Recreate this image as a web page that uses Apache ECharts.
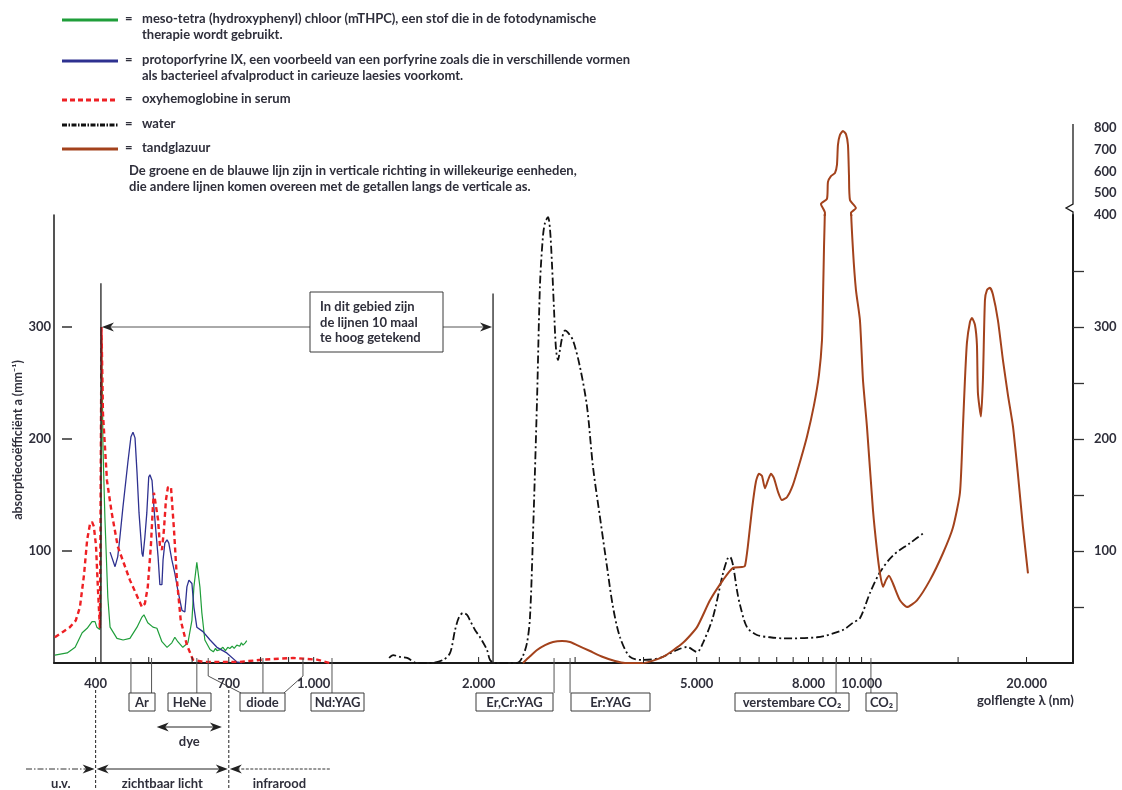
<!DOCTYPE html>
<html><head><meta charset="utf-8">
<script src="https://cdn.jsdelivr.net/npm/echarts@6/dist/echarts.min.js"></script>
<style>html,body{margin:0;padding:0;background:#fff}#c{width:1122px;height:790px}</style>
</head><body><div id="c"></div>
<script>
// ---------- DATA (wavelength nm, absorption coefficient mm^-1) ----------
const mthpc = [[337,7],[355,9],[367,14],[378,27],[386,31],[394,37],[399,37],[402,32],[407,30],[408.5,40],[410.5,290],[412.5,193],[416,128],[421,59],[425,32],[437.5,22],[449,20.5],[462,22],[476,32],[486,41],[490,43],[498,36],[509,32],[517.5,31],[528.5,19],[540,14],[551,18],[558,23],[565,19],[577,14],[589.5,18],[599.5,38],[604.5,68],[612,90],[620,68],[625,45],[633,20.5],[647,12],[656,10],[662,13],[666,11],[675,12],[683,14],[690,11],[697,14],[703,13],[710,15],[716,13],[724,16],[733,15],[738,18],[743,16],[750,18],[755,20]];
const ppix = [[425,99],[434,86],[437.5,86],[439,95],[443,112.5],[448.6,139],[458,179],[464,202],[468,206],[472,201],[476,170],[480,134],[486,98],[488,95],[492,112.5],[496,134],[500,166],[502.5,168],[507,163],[511,139],[515,119],[520,95],[524,70],[528.5,70],[531,92],[535,107],[540,110],[544,107],[551,92],[558,80],[565,65],[575,47],[582,45.5],[587,68],[592,74],[599.5,71],[604.5,50],[612,32],[628,28],[647,20.5],[666,14],[694,9],[724,1],[740,0]];
const oxyhb = [[337,23],[349,28],[359,32],[368,38],[374.5,50],[381,79],[386,110],[390.6,124],[394,126],[397,122],[400.6,105],[404,65],[407.3,31],[409,31],[410,300],[412.5,223],[416,193],[419.5,163],[428,134],[439,104],[462,74],[486,50],[492,53],[498,68],[504.6,105],[509,141],[511,152],[515,152],[520,128],[524,105],[528.5,101],[533,119],[537.5,145.5],[542,157],[549,157],[556,119],[563,74],[572,38],[587,16],[602,3],[628,1],[733,1],[808,3],[917,4.5],[1014,3],[1071,0]];
const water = [[1373,4.5],[1396,7],[1438,5.4],[1481,4.5],[1544,0],[1631,0],[1722,2.7],[1774,9],[1811.5,29.5],[1842,41],[1873.5,44.6],[1905,43],[1929,38],[1970,29.5],[2012,23],[2072,11.6],[2098.5,2.7],[2143,0],[2311,0],[2350,0],[2400,4.5],[2451,18],[2482,41],[2514,116],[2556.5,235],[2589,339],[2622,382],[2644,393],[2677,398],[2700,387],[2723,355],[2746,315],[2769,280],[2792,270.5],[2816,280],[2840,290],[2876,297],[2912,295],[2974,288],[3063,264],[3154,229],[3234.5,175],[3331,130],[3430.5,86],[3518,50],[3623,23],[3779,5.4],[3991,2.7],[4286,4.5],[4603,11.6],[4801,14.3],[5007,9.8],[5135,18],[5355,41],[5585,80],[5703,94],[5751,94.6],[5824,87.5],[5922.5,65],[5998,52],[6177,32],[6442,25],[6804,23],[7186,22],[8289,23],[9247,29.5],[9644,36],[9931,40],[10357,62.5],[10802,81],[11408,96],[12254,107],[13051,117]];
const enamel = [[2410,0],[2482,6],[2556.5,11.6],[2644,16],[2734,18.75],[2839.5,19.6],[2937,18.75],[3024,16],[3194,10.7],[3373,5.4],[3548,1.8],[3700,0],[3991,0],[4340,5.4],[4721,18],[5007,32],[5288,56],[5585,74],[5824,85],[6049,85.7],[6125,86.6],[6203,105],[6308,137],[6415,162],[6496,169],[6579,167],[6662,156],[6746,163],[6833,169],[6919,165],[7036,153],[7156,145.5],[7307,148],[7494,159],[7718,179.5],[7948,202],[8185,230],[8359,257],[8466,288],[8501,324],[8537,369],[8573,410],[8430,451],[8645,474],[8682,552],[8792,579],[8941,593],[9016,630],[9054,722],[9131,768],[9247,786],[9364,772],[9443,722],[9483,584],[9523,469],[9766,432],[9563,409],[9644,369],[9766,333],[9931,306],[10057,253],[10227.5,211],[10488,137],[10666,101],[10802,80],[10939,68],[11077,74],[11218,78],[11408,71],[11749,56],[12101,50],[12620,56],[13328,74],[14076,98],[14680,121],[15118,152],[15310,211],[15439,253],[15569,286],[15767,304.5],[15900,308],[16101,302],[16237,284],[16305,241],[16512,220],[16651,253],[16792,324],[16934,333],[17149,335],[17366,329],[17735,306],[18111,270.5],[18500,239],[18893,211],[19294,168],[19703,121],[20121,80]];

const xTickLabels = [400, 700, 1000, 2000, 5000, 8000, 10000, 20000];
const xTicks = [400,500,600,700,800,900,1000,2000,3000,4000,5000,5500,6000,6500,7000,7500,8000,8500,9000,9500,10000,15000,20000];
const leftYLabels = [100, 200, 300];
const rightYTicks = [50, 100, 150, 200, 250, 300, 350];
const rightLowerLabels = [100, 200, 300, 400];
const rightUpperLabels = [500, 600, 700, 800];

const laserNames = ['Ar', 'HeNe', 'diode', 'Nd:YAG', 'Er,Cr:YAG', 'Er:YAG', 'verstembare CO₂', 'CO₂'];
const laserLines = [[464, 506], [612], [642, 808, 956], [1080], [2746], [2937], [8983], [10400]];
const dyeRange = [517, 680];
const visibleRange = [400, 700];
const zoomRegion = [409, 2125];   // region drawn 10x too high
const zoomArrowValue = 300;

const legendTexts = [
  ['meso-tetra (hydroxyphenyl) chloor (mTHPC), een stof die in de fotodynamische', 'therapie wordt gebruikt.'],
  ['protoporfyrine IX, een voorbeeld van een porfyrine zoals die in verschillende vormen', 'als bacterieel afvalproduct in carieuze laesies voorkomt.'],
  ['oxyhemoglobine in serum'],
  ['water'],
  ['tandglazuur']
];
const noteText = ['De groene en de blauwe lijn zijn in verticale richting in willekeurige eenheden,', 'die andere lijnen komen overeen met de getallen langs de verticale as.'];

// ---------- STYLE ----------
const FAM = 'Lato, "Open Sans", "DejaVu Sans", sans-serif';
const TXT = '#2f2f3b';
const C_GREEN = '#1f9e3a', C_BLUE = '#2e3190', C_RED = '#ee2024', C_WATER = '#111111', C_BROWN = '#a3421c';
const xMin = 335.8, xMax = 24312;

const chart = echarts.init(document.getElementById('c'), null, {renderer: 'canvas'});
const lblStyle = {fontFamily: FAM, fontWeight: 'bold', fontSize: 13, color: TXT};

chart.setOption({
  animation: false,
  backgroundColor: '#fff',
  grid: [
    {left: 54, right: 49, top: 215, height: 448},
    {left: 54, right: 49, top: 128, height: 87}
  ],
  xAxis: [
    {type: 'log', logBase: 10, gridIndex: 0, min: xMin, max: xMax,
     axisLine: {show: true, onZero: false, lineStyle: {color: '#1b1b1b', width: 2}},
     axisTick: {show: false}, axisLabel: {show: false}, splitLine: {show: false},
     minorTick: {show: false}, minorSplitLine: {show: false}},
    {type: 'log', logBase: 10, gridIndex: 1, min: xMin, max: xMax, show: false}
  ],
  yAxis: [
    {type: 'value', gridIndex: 0, min: 0, max: 400, interval: 100, position: 'left',
     axisLine: {show: true, lineStyle: {color: '#1b1b1b', width: 1.5}},
     axisTick: {show: false}, splitLine: {show: false},
     axisLabel: Object.assign({margin: 3, formatter: v => leftYLabels.includes(v) ? String(v) : ''}, lblStyle)},
    {type: 'value', gridIndex: 0, min: 0, max: 400, interval: 50, position: 'right',
     axisLine: {show: true, lineStyle: {color: '#1b1b1b', width: 2}},
     axisTick: {show: true, length: 11, customValues: rightYTicks, lineStyle: {color: '#333', width: 1.3}},
     splitLine: {show: false},
     axisLabel: Object.assign({margin: 21, customValues: rightLowerLabels, formatter: v => rightLowerLabels.includes(v) ? String(v) : ''}, lblStyle)},
    {type: 'value', gridIndex: 1, min: 400, max: 800, interval: 100, position: 'right',
     axisLine: {show: false}, axisTick: {show: false}, splitLine: {show: false},
     axisLabel: Object.assign({margin: 21, customValues: rightUpperLabels, formatter: v => rightUpperLabels.includes(v) ? String(v) : ''}, lblStyle)}
  ],
  series: [
    {type: 'line', name: 'mTHPC', xAxisIndex: 0, yAxisIndex: 0, data: mthpc, showSymbol: false, clip: true,
     lineStyle: {color: C_GREEN, width: 1.2}, z: 3},
    {type: 'line', name: 'protoporfyrine IX', xAxisIndex: 0, yAxisIndex: 0, data: ppix, showSymbol: false, clip: true,
     lineStyle: {color: C_BLUE, width: 1.3}, z: 4},
    {type: 'line', name: 'oxyhemoglobine', xAxisIndex: 0, yAxisIndex: 0, data: oxyhb, showSymbol: false, clip: true,
     lineStyle: {color: C_RED, width: 2.4, type: [5, 3.5]}, z: 5},
    {type: 'line', name: 'water', xAxisIndex: 0, yAxisIndex: 0, data: water, showSymbol: false, clip: true, smooth: 0.3,
     lineStyle: {color: C_WATER, width: 1.8, type: [8, 3, 2, 3]}, z: 6},
    {type: 'line', name: 'tandglazuur', xAxisIndex: 0, yAxisIndex: 0, data: enamel, showSymbol: false, clip: true, smooth: 0.2,
     lineStyle: {color: C_BROWN, width: 2}, z: 7},
    {type: 'line', name: 'tandglazuur (boven)', xAxisIndex: 1, yAxisIndex: 2, data: enamel, showSymbol: false, clip: true, smooth: 0.2,
     lineStyle: {color: C_BROWN, width: 2}, z: 7}
  ]
});

function build() {
  const X = v => chart.convertToPixel({xAxisIndex: 0}, v);
  const Y = v => chart.convertToPixel({yAxisIndex: 0}, v);
  const g = [];
  const y0 = Y(0), xL = X(xMin), xR = X(xMax);
  const line = (x1, y1, x2, y2, st) => g.push({type: 'line', silent: true, z: 50,
    shape: {x1, y1, x2, y2}, style: Object.assign({stroke: '#222', lineWidth: 1}, st || {})});
  const poly = (pts, st) => g.push({type: 'polyline', silent: true, z: 50, shape: {points: pts},
    style: Object.assign({stroke: '#222', lineWidth: 1, fill: null}, st || {})});
  const txt = (x, y, s, o) => { o = o || {}; g.push({type: 'text', silent: true, z: 60, x, y, rotation: o.rot || 0,
    style: {text: s, fill: o.color || TXT, fontFamily: FAM, fontSize: o.size || 13, fontWeight: o.weight || 'bold',
      align: o.align || 'left', verticalAlign: o.va || 'middle', textAlign: o.align || 'left', textVerticalAlign: o.va || 'middle'}}); };
  const arrow = (xt, y, dir, col) => g.push({type: 'polygon', silent: true, z: 55,
    shape: {points: [[xt, y], [xt - dir * 12, y - 4.5], [xt - dir * 8.5, y], [xt - dir * 12, y + 4.5]]},
    style: {fill: col || '#222'}});
  const box = (x, y, w, h) => g.push({type: 'rect', silent: true, z: 52, shape: {x, y, width: w, height: h},
    style: {fill: '#fff', stroke: '#3a3a3a', lineWidth: 1}});
  const fmt = v => String(v).replace(/\B(?=(\d{3})+(?!\d))/g, '.');

  // x ticks & labels
  xTicks.forEach(t => line(X(t), y0, X(t), y0 - 6, {stroke: '#222', lineWidth: 1}));
  xTickLabels.forEach(t => txt(X(t), y0 + 21, fmt(t), {align: 'center'}));

  // left axis detached ticks
  leftYLabels.forEach(v => line(xL + 8, Y(v), xL + 18, Y(v), {stroke: '#222', lineWidth: 1.4}));

  // right axis break + upper part
  poly([[xR, Y(400)], [xR, Y(400) - 3], [xR - 7, Y(400) - 7], [xR, Y(400) - 11], [xR, 124]], {stroke: '#1b1b1b', lineWidth: 1.3});

  // 10x region markers
  const zl = X(zoomRegion[0]), zr = X(zoomRegion[1]), ya = Y(zoomArrowValue);
  line(zl, Y(339), zl, y0, {stroke: '#222', lineWidth: 1.3});
  line(zr, Y(330), zr, y0, {stroke: '#222', lineWidth: 1.3});
  line(zl + 4, ya, zr - 4, ya, {stroke: '#555', lineWidth: 1});
  arrow(zl + 1, ya, -1); arrow(zr - 1, ya, 1);
  box(310, 292, 133, 60);
  ['In dit gebied zijn', 'de lijnen 10 maal', 'te hoog getekend'].forEach((s, i) => txt(320, 307 + i * 15.5, s));

  // laser boxes & connectors
  const bY = 693, bH = 18;
  const boxes = [[129, 26], [168, 43], [240, 45], [311, 53], [476, 77], [571, 79], [735, 114], [866, 31]];
  laserNames.forEach((n, i) => {
    const [bx, bw] = boxes[i];
    const ls = laserLines[i];
    if (n === 'diode') {
      const a = X(ls[0]), m = X(ls[1]), c = X(ls[2]);
      poly([[a, y0 - 5], [a, 676], [bx + 1, bY]], {stroke: '#555'});
      line(m, y0 - 5, m, bY, {stroke: '#555'});
      poly([[c, y0 - 5], [c, 676], [bx + bw - 1, bY]], {stroke: '#555'});
    } else {
      ls.forEach(w => line(X(w), y0 - 5, X(w), bY, {stroke: '#555'}));
    }
    box(bx, bY, bw, bH);
    txt(bx + bw / 2, bY + bH / 2 + 0.5, n, {align: 'center'});
  });
  txt(977, 701, 'golflengte λ (nm)');

  // dye arrow
  const d1 = X(dyeRange[0]), d2 = X(dyeRange[1]);
  line(d1 + 5, 727, d2 - 5, 727, {stroke: '#222'});
  arrow(d1, 727, -1); arrow(d2, 727, 1);
  txt((d1 + d2) / 2, 742, 'dye', {align: 'center'});

  // spectrum bands
  const v1 = X(visibleRange[0]), v2 = X(visibleRange[1]);
  line(v1, 690, v1, 790, {stroke: '#222', lineDash: [3, 2]});
  line(v2, 690, v2, 790, {stroke: '#222', lineDash: [3, 2]});
  const ya2 = 769;
  line(26, ya2, v1 - 8, ya2, {stroke: '#333', lineDash: [6, 2, 1.5, 2]});
  arrow(v1 - 1, ya2, 1);
  line(v1 + 5, ya2, v2 - 5, ya2, {stroke: '#222'});
  arrow(v1 + 1, ya2, -1); arrow(v2 - 1, ya2, 1);
  arrow(v2 + 1, ya2, -1);
  line(v2 + 8, ya2, 330, ya2, {stroke: '#333', lineDash: [3, 1.5]});
  txt((26 + v1) / 2, 784, 'u.v.', {align: 'center'});
  txt((v1 + v2) / 2, 784, 'zichtbaar licht', {align: 'center'});
  txt((v2 + 330) / 2, 784, 'infrarood', {align: 'center'});

  // y-axis title
  txt(18, 440, 'absorptiecoëfficiënt a (mm⁻¹)', {align: 'center', rot: Math.PI / 2, size: 12.5});

  // legend
  const legY = [19, 60, 99, 124, 148];
  const legSt = [
    {stroke: C_GREEN, lineWidth: 3},
    {stroke: C_BLUE, lineWidth: 3},
    {stroke: C_RED, lineWidth: 3, lineDash: [5, 3]},
    {stroke: C_WATER, lineWidth: 3, lineDash: [5, 1.5, 1.5, 1.5]},
    {stroke: C_BROWN, lineWidth: 3}
  ];
  legendTexts.forEach((lines, i) => {
    line(62, legY[i] + 1, 118, legY[i] + 1, legSt[i]);
    txt(125, legY[i], '=', {});
    lines.forEach((s, j) => txt(142, legY[i] + j * 16, s));
  });
  noteText.forEach((s, j) => txt(129, 171 + j * 16, s));

  chart.setOption({graphic: g});
}
build();
</script>
</body></html>
